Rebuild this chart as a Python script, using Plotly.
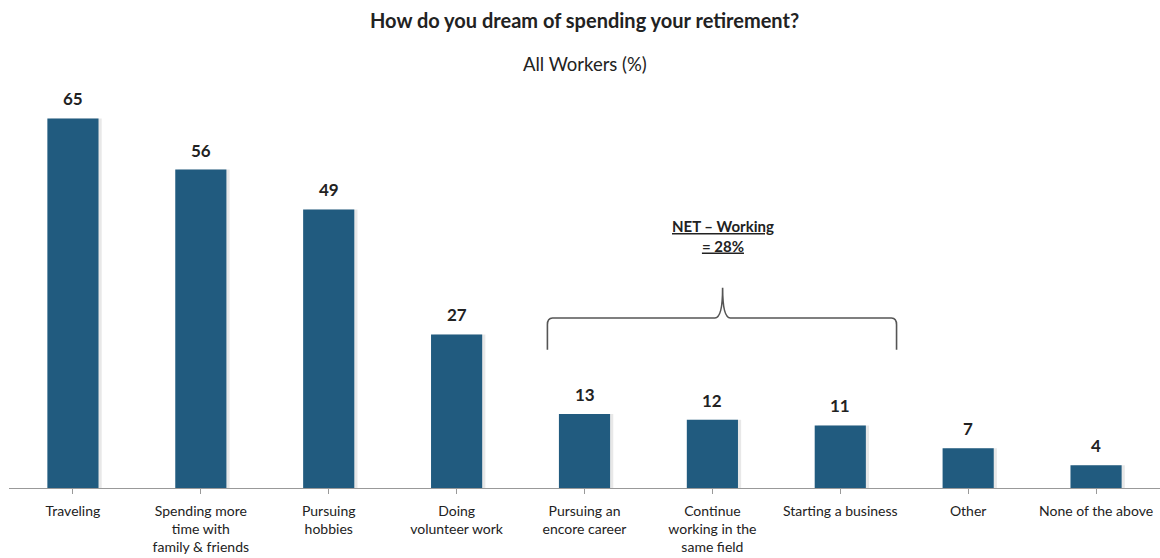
import plotly.graph_objects as go

categories = ["Traveling", "Spending more<br>time with<br>family & friends", "Pursuing<br>hobbies",
              "Doing<br>volunteer work", "Pursuing an<br>encore career", "Continue<br>working in the<br>same field",
              "Starting a business", "Other", "None of the above"]
values = [65, 56, 49, 27, 13, 12, 11, 7, 4]
net_label = "<u>NET – Working</u><br><u>= 28%</u>"

FONT = "Lato, Open Sans, sans-serif"
BAR = "#215B7F"
xs = list(range(len(categories)))

fig = go.Figure()
fig.add_trace(go.Bar(x=xs, y=values, width=0.4, offset=-0.2 + 0.025,
                     marker=dict(color="rgba(0,0,0,0.09)", line=dict(width=0)),
                     hoverinfo="skip", showlegend=False))
fig.add_trace(go.Bar(x=xs, y=values, width=0.4, offset=-0.2,
                     marker=dict(color=BAR, line=dict(width=0)),
                     showlegend=False))

for x, v in zip(xs, values):
    fig.add_annotation(x=x, y=v, text=f"<b>{v}</b>", showarrow=False, yanchor="bottom",
                       yshift=7, font=dict(family=FONT, size=17, color="#222"))

# bracket for NET - Working (spans categories 4..6)
xl, xr, xm = 3.71, 6.44, 5.08
yb, yh, yp = 24.3, 29.9, 35.2
path = (f"M {xl},{yb} L {xl},{yh-1.2} Q {xl},{yh} {xl+0.04},{yh} "
        f"L {xm-0.06},{yh} Q {xm},{yh} {xm},{yp} "
        f"Q {xm},{yh} {xm+0.06},{yh} L {xr-0.04},{yh} Q {xr},{yh} {xr},{yh-1.2} L {xr},{yb}")
fig.add_shape(type="path", path=path, xref="x", yref="y",
              line=dict(color="#555", width=1.6))
fig.add_annotation(x=xm, y=44.3, text=f"<b>{net_label}</b>", showarrow=False,
                   font=dict(family=FONT, size=15, color="#222"), align="center")

fig.add_annotation(text="<b>How do you dream of spending your retirement?</b>", xref="paper", yref="paper",
                   x=0.5, y=1, yshift=84, showarrow=False, font=dict(family=FONT, size=20, color="#222"))
fig.add_annotation(text="All Workers (%)", xref="paper", yref="paper",
                   x=0.5, y=1, yshift=39, showarrow=False, font=dict(family=FONT, size=18.5, color="#222"))

fig.update_layout(
    width=1160, height=558,
    margin=dict(l=9, r=0, t=90, b=70),
    paper_bgcolor="white", plot_bgcolor="white",
    barmode="overlay",
    font=dict(family=FONT, size=14, color="#222"),
)

fig.update_xaxes(tickmode="array", tickvals=xs, ticktext=categories, range=[-0.5, len(categories) - 0.5],
                 showline=True, linecolor="#999", linewidth=1, ticks="outside", tickson="boundaries",
                 ticklen=5, tickcolor="#999", showgrid=False, ticklabelstandoff=5,
                 tickfont=dict(family=FONT, size=14, color="#222"))
fig.update_yaxes(range=[0, 70], visible=False, showgrid=False)

fig.write_html("out.html")
